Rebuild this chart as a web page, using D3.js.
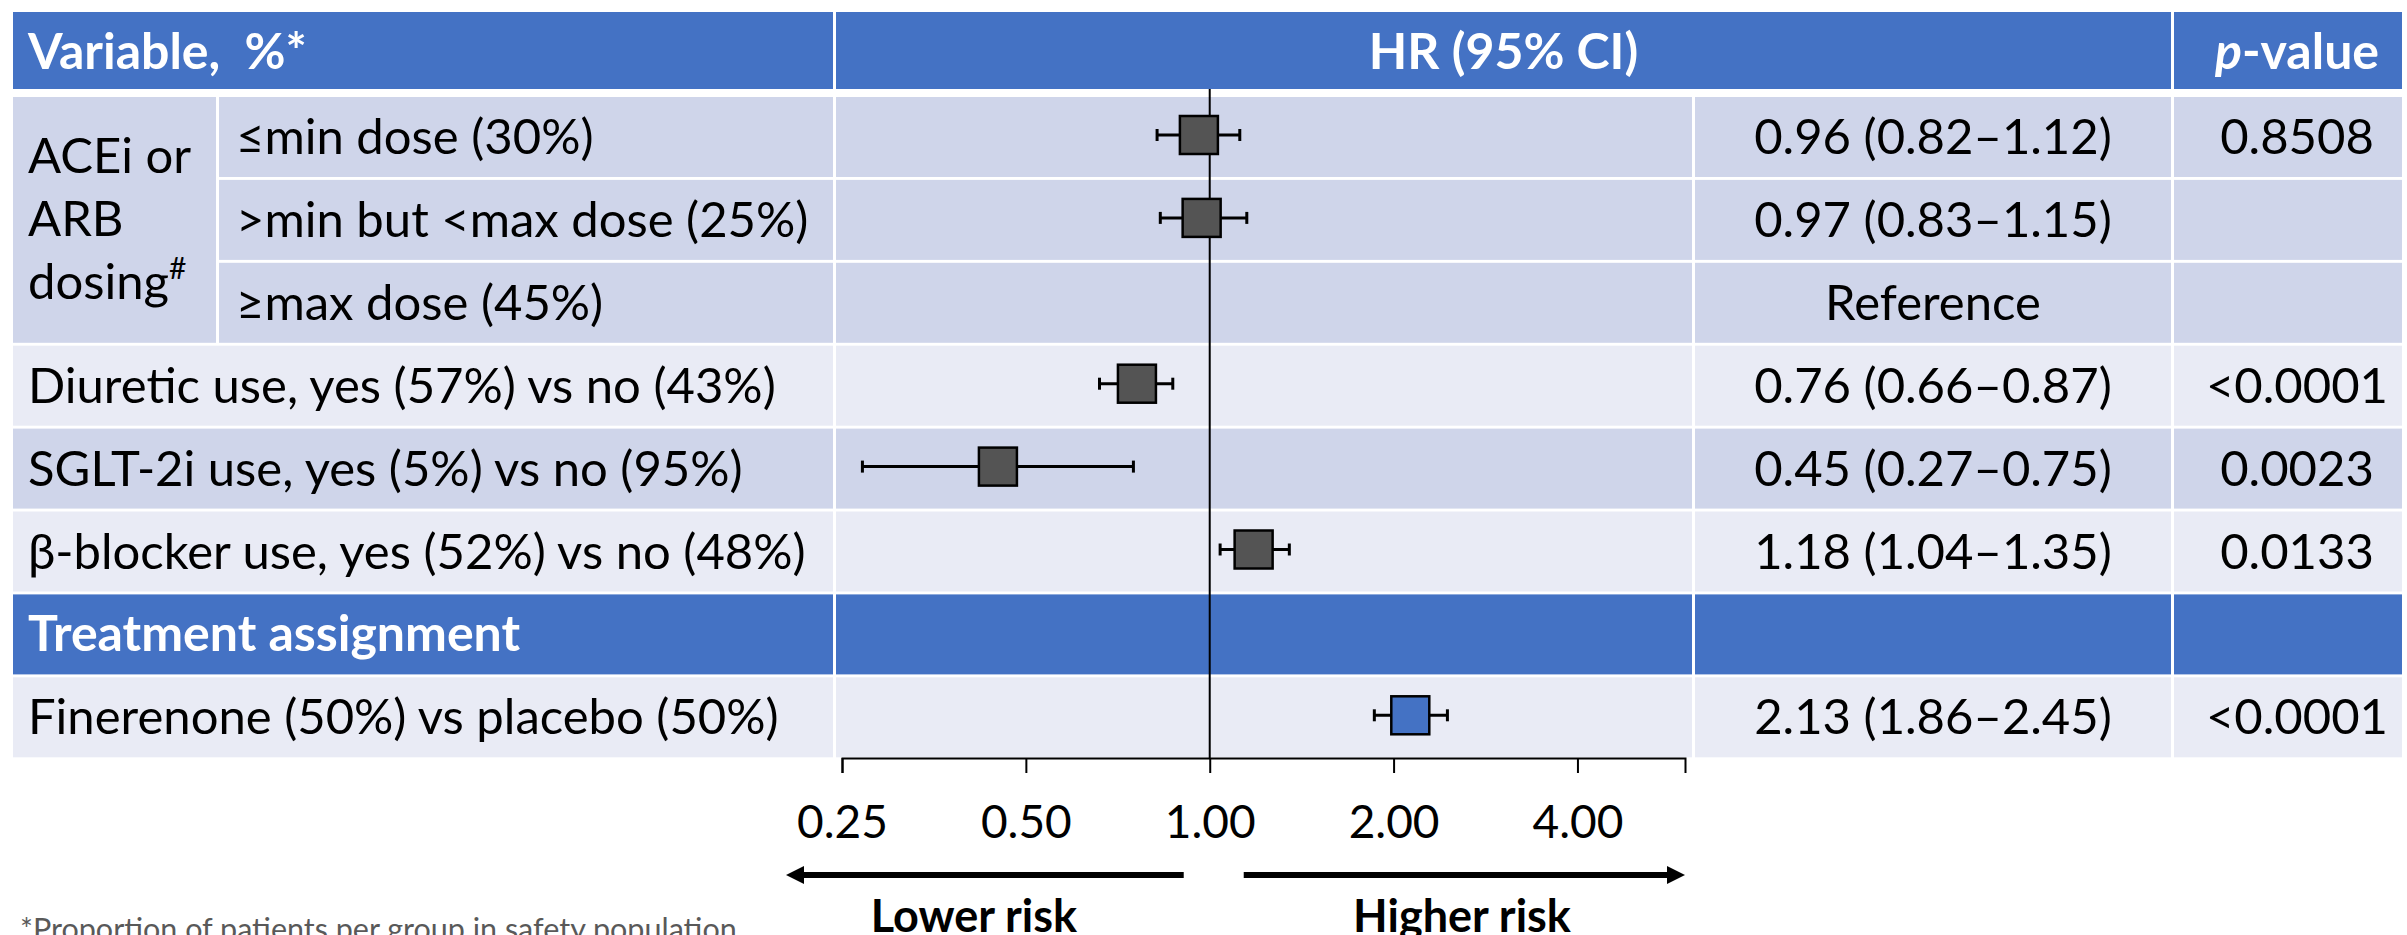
<!DOCTYPE html>
<html>
<head>
<meta charset="utf-8">
<script src="https://cdn.jsdelivr.net/npm/d3@7"></script>
<style>
  html, body { margin: 0; padding: 0; background: #ffffff; }
  svg { display: block; font-family: Lato, "Liberation Sans", sans-serif; }
</style>
</head>
<body>
<svg id="chart" width="2407" height="935"></svg>
<script>
// ---- data ----
const headerLabels = ["Variable,  %*", "HR (95% CI)", "-value"];
const groupLines = ["ACEi or", "ARB", "dosing"];
const rowLabels = [
  "≤min dose (30%)",
  ">min but <max dose (25%)",
  "≥max dose (45%)",
  "Diuretic use, yes (57%) vs no (43%)",
  "SGLT-2i use, yes (5%) vs no (95%)",
  "β-blocker use, yes (52%) vs no (48%)",
  "Treatment assignment",
  "Finerenone (50%) vs placebo (50%)"
];
const rowKind = ["sub", "sub", "ref", "item", "item", "item", "section", "item"];
const hr     = [0.96, 0.97, null, 0.76, 0.45, 1.18, null, 2.13];
const ciLow  = [0.82, 0.83, null, 0.66, 0.27, 1.04, null, 1.86];
const ciHigh = [1.12, 1.15, null, 0.87, 0.75, 1.35, null, 2.45];
const pValues = ["0.8508", "", "", "<0.0001", "0.0023", "0.0133", "", "<0.0001"];
const tickValues = [0.25, 0.5, 1, 2, 4];
const tickLabels = ["0.25", "0.50", "1.00", "2.00", "4.00"];
const footnote = "*Proportion of patients per group in safety population";

// ---- layout ----
const BLUE = "#4472C4", DARK = "#CFD5EA", LIGHT = "#E9EBF5";
const FS = 49, FSB = 50;
const col = {
  first: [13, 833], group: [13, 216], sub: [219, 833],
  plot: [836, 1692], hrText: [1695, 2171], p: [2174, 2402]
};
const head = [12, 89];
const pCenter = 2297;

const svg = d3.select("#chart");

const y = d3.scaleBand().domain(d3.range(rowLabels.length))
  .range([97, 757.3]).paddingInner(0.035);
const x = d3.scaleLog().domain([0.25, 6]).range([842, 1685]);

function cell(x0, x1, y0, y1, fill) {
  svg.append("rect").attr("x", x0).attr("y", y0)
    .attr("width", x1 - x0).attr("height", y1 - y0).attr("fill", fill);
}
function shade(i) {
  if (rowKind[i] === "section") return BLUE;
  if (i < 3) return DARK;
  return (i - 3) % 2 === 0 ? LIGHT : DARK;
}

// header row
cell(col.first[0], col.first[1], head[0], head[1], BLUE);
cell(col.plot[0], col.hrText[1], head[0], head[1], BLUE);
cell(col.p[0], col.p[1], head[0], head[1], BLUE);

// body cells
rowLabels.forEach((_, i) => {
  const y0 = y(i), y1 = y(i) + y.bandwidth(), f = shade(i);
  if (i < 3) cell(col.sub[0], col.sub[1], y0, y1, f);
  else cell(col.first[0], col.first[1], y0, y1, f);
  cell(col.plot[0], col.plot[1], y0, y1, f);
  cell(col.hrText[0], col.hrText[1], y0, y1, f);
  cell(col.p[0], col.p[1], y0, y1, f);
});
// merged group cell for the ACEi/ARB block
cell(col.group[0], col.group[1], y(0), y(2) + y.bandwidth(), DARK);

// header texts
const headBase = 69;
svg.append("text").attr("x", 28).attr("y", headBase)
  .attr("fill", "#fff").attr("font-weight", 700).attr("font-size", FSB)
  .style("white-space", "pre").text(headerLabels[0]);
svg.append("text").attr("x", (col.plot[0] + col.hrText[1]) / 2).attr("y", headBase)
  .attr("text-anchor", "middle").attr("fill", "#fff").attr("font-weight", 700)
  .attr("font-size", FSB).text(headerLabels[1]);
const pHead = svg.append("text").attr("x", pCenter).attr("y", headBase)
  .attr("text-anchor", "middle").attr("fill", "#fff").attr("font-weight", 700)
  .attr("font-size", FSB);
pHead.append("tspan").attr("font-style", "italic").text("p");
pHead.append("tspan").text(headerLabels[2]);

// group label (three lines, superscript on the last)
const gMid = (y(0) + y(2) + y.bandwidth()) / 2;
groupLines.forEach((t, k) => {
  const tx = svg.append("text").attr("x", 28).attr("y", gMid + 16 + (k - 1) * 63)
    .attr("font-size", FS).attr("fill", "#000").text(t);
  if (k === 2) tx.append("tspan").attr("font-size", 30).attr("dy", -20).text("#");
});

// row labels, HR texts and p-values
const fmt = d3.format(".2f");
rowLabels.forEach((t, i) => {
  const base = y(i) + y.bandwidth() / 2 + 17;
  const section = rowKind[i] === "section";
  svg.append("text")
    .attr("x", i < 3 ? 236 : 28).attr("y", base)
    .attr("font-size", section ? FSB : FS)
    .attr("font-weight", section ? 700 : 400)
    .attr("fill", section ? "#fff" : "#000")
    .text(t);
  let hrTxt = "";
  if (rowKind[i] === "ref") hrTxt = "Reference";
  else if (hr[i] != null) hrTxt = `${fmt(hr[i])} (${fmt(ciLow[i])}–${fmt(ciHigh[i])})`;
  if (hrTxt) svg.append("text")
    .attr("x", (col.hrText[0] + col.hrText[1]) / 2).attr("y", base)
    .attr("text-anchor", "middle").attr("font-size", FS).attr("fill", "#000")
    .text(hrTxt);
  if (pValues[i]) svg.append("text")
    .attr("x", pCenter).attr("y", base)
    .attr("text-anchor", "middle").attr("font-size", FS).attr("fill", "#000")
    .text(pValues[i]);
});

// reference line at HR = 1
svg.append("line").attr("x1", x(1)).attr("x2", x(1))
  .attr("y1", head[1]).attr("y2", 758)
  .attr("stroke", "#000").attr("stroke-width", 2);

// confidence intervals and point estimates
const pts = d3.range(rowLabels.length).filter(i => hr[i] != null);
const capH = 12, box = 38;
const marks = svg.append("g");
pts.forEach(i => {
  const cy = y(i) + y.bandwidth() / 2 - 2;
  const g = marks.append("g");
  g.append("line").attr("x1", x(ciLow[i])).attr("x2", x(ciHigh[i]))
    .attr("y1", cy).attr("y2", cy).attr("stroke", "#000").attr("stroke-width", 3);
  [ciLow[i], ciHigh[i]].forEach(v => {
    g.append("line").attr("x1", x(v)).attr("x2", x(v))
      .attr("y1", cy - capH / 2).attr("y2", cy + capH / 2)
      .attr("stroke", "#000").attr("stroke-width", 3);
  });
  g.append("rect").attr("x", x(hr[i]) - box / 2).attr("y", cy - box / 2)
    .attr("width", box).attr("height", box)
    .attr("fill", i > rowKind.indexOf("section") ? BLUE : "#545454")
    .attr("stroke", "#000").attr("stroke-width", 2.5);
});

// log axis
const axis = d3.axisBottom(x).tickValues(tickValues)
  .tickFormat((d, k) => tickLabels[k]).tickSize(15).tickSizeOuter(15);
const ax = svg.append("g").attr("transform", "translate(0,758)").call(axis);
ax.select(".domain").attr("stroke", "#000").attr("stroke-width", 2);
ax.selectAll(".tick line").attr("stroke", "#000").attr("stroke-width", 2);
ax.selectAll(".tick text").attr("y", 80).attr("dy", null)
  .attr("font-size", 46).attr("font-family", "Lato, sans-serif").attr("fill", "#000");

// direction arrows
const arrowY = 875;
function arrow(xFrom, xTip) {
  const dir = Math.sign(xTip - xFrom), head = 18;
  svg.append("line").attr("x1", xFrom).attr("x2", xTip - dir * head)
    .attr("y1", arrowY).attr("y2", arrowY)
    .attr("stroke", "#000").attr("stroke-width", 6);
  svg.append("path")
    .attr("d", `M${xTip},${arrowY} L${xTip - dir * head},${arrowY - 9} L${xTip - dir * head},${arrowY + 9} Z`)
    .attr("fill", "#000");
}
arrow(x(1) - 26, x.range()[0] - 56);
arrow(x(1) + 34, x.range()[1]);

svg.append("text").attr("x", 974).attr("y", 932).attr("text-anchor", "middle")
  .attr("font-size", 45).attr("font-weight", 700).text("Lower risk");
svg.append("text").attr("x", 1462).attr("y", 932).attr("text-anchor", "middle")
  .attr("font-size", 45).attr("font-weight", 700).text("Higher risk");

// footnote
svg.append("text").attr("x", 20).attr("y", 940)
  .attr("font-size", 30.5).attr("fill", "#595959").text(footnote);
</script>
</body>
</html>
